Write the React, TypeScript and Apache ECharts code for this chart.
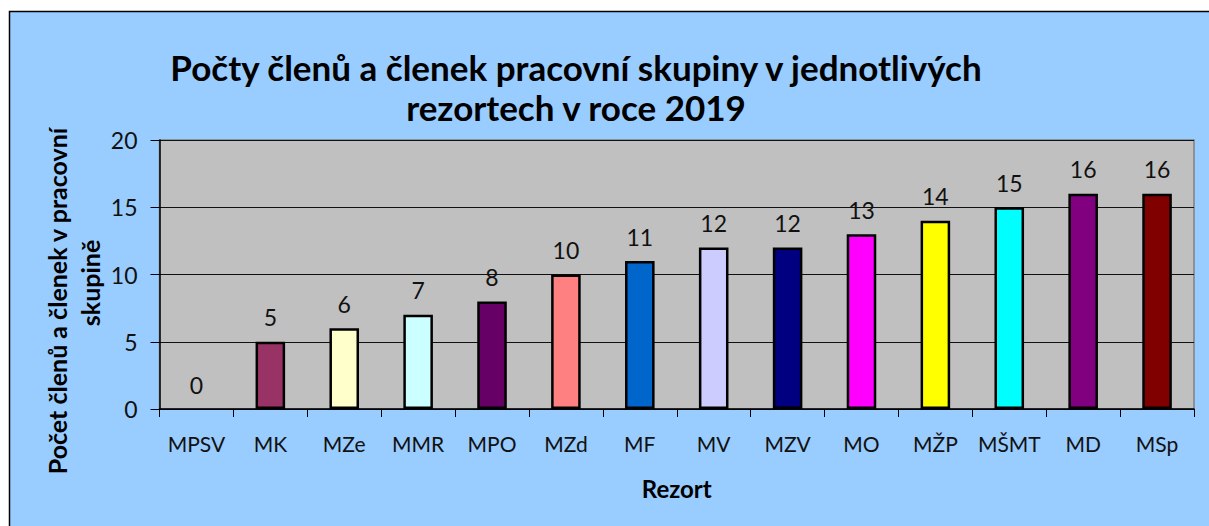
import React, { useEffect, useRef } from "react";
import * as echarts from "echarts";

const categories = ["MPSV", "MK", "MZe", "MMR", "MPO", "MZd", "MF", "MV", "MZV", "MO", "MŽP", "MŠMT", "MD", "MSp"];
const values = [0, 5, 6, 7, 8, 10, 11, 12, 12, 13, 14, 15, 16, 16];
const barColors = ["#c0c0c0", "#993366", "#ffffcc", "#ccffff", "#660066", "#ff8080", "#0066cc", "#ccccff", "#000080", "#ff00ff", "#ffff00", "#00ffff", "#800080", "#800000"];
const titleText = "Počty členů a členek pracovní skupiny v jednotlivých\nrezortech v roce 2019";
const yAxisNameLines = ["Počet členů a členek v pracovní", "skupině"];
const xAxisName = "Rezort";

const FONT = "Lato, 'Open Sans', sans-serif";

export default function App() {
  const ref = useRef<HTMLDivElement>(null);
  useEffect(() => {
    document.body.style.margin = "0";
    const chart = echarts.init(ref.current!, null, { renderer: "svg" });
    chart.setOption({
      animation: false,
      backgroundColor: "#ffffff",
      graphic: [
        {
          type: "rect",
          z: -10,
          silent: true,
          shape: { x: 9.5, y: 11.5, width: 1210, height: 520 },
          style: { fill: "#99ccff", stroke: "#000", lineWidth: 1.5 },
        },
        {
          type: "text",
          x: 57,
          y: 301,
          rotation: Math.PI / 2,
          silent: true,
          style: {
            text: yAxisNameLines[0],
            font: `bold 25px ${FONT}`,
            fill: "#000",
            align: "center",
            verticalAlign: "middle",
          },
        },
        {
          type: "text",
          x: 90,
          y: 283,
          rotation: Math.PI / 2,
          silent: true,
          style: {
            text: yAxisNameLines[1],
            font: `bold 25px ${FONT}`,
            fill: "#000",
            align: "center",
            verticalAlign: "middle",
          },
        },
      ],
      title: {
        text: titleText,
        left: 571,
        textAlign: "center",
        top: 42,
        textStyle: { fontFamily: FONT, fontWeight: "bold", fontSize: 35, color: "#000", lineHeight: 40 },
      },
      grid: {
        left: 159.5,
        right: 15,
        top: 140,
        bottom: 117,
        show: true,
        backgroundColor: "#c0c0c0",
        borderColor: "#808080",
        borderWidth: 1.5,
        containLabel: false,
      },
      xAxis: {
        type: "category",
        data: categories,
        name: xAxisName,
        nameLocation: "middle",
        nameGap: 67,
        nameTextStyle: { fontFamily: FONT, fontWeight: "bold", fontSize: 24, color: "#000" },
        axisLine: { lineStyle: { color: "#000", width: 1.5 } },
        axisTick: { show: true, length: 8, lineStyle: { color: "#000" } },
        axisLabel: { fontFamily: FONT, fontSize: 21, color: "#111", margin: 24, interval: 0 },
      },
      yAxis: {
        type: "value",
        min: 0,
        max: 20,
        interval: 5,
        axisLine: { show: true, lineStyle: { color: "#000", width: 1.5 } },
        axisTick: { show: true, length: 9, lineStyle: { color: "#000" } },
        axisLabel: { fontFamily: FONT, fontSize: 23, color: "#111", margin: 22 },
        splitLine: { lineStyle: { color: "#111", width: 1 } },
      },
      series: [
        {
          type: "bar",
          data: values.map((v, i) => ({
            value: v,
            itemStyle: { color: barColors[i], borderWidth: v === 0 ? 0 : 2.5 },
          })),
          barWidth: "40%",
          itemStyle: { borderColor: "#000", borderWidth: 2.5 },
          label: {
            show: true,
            position: "top",
            distance: 13,
            fontFamily: FONT,
            fontSize: 23,
            color: "#111",
          },
        },
      ],
    });
    return () => chart.dispose();
  }, []);
  return <div ref={ref} style={{ width: 1209, height: 526 }} />;
}
